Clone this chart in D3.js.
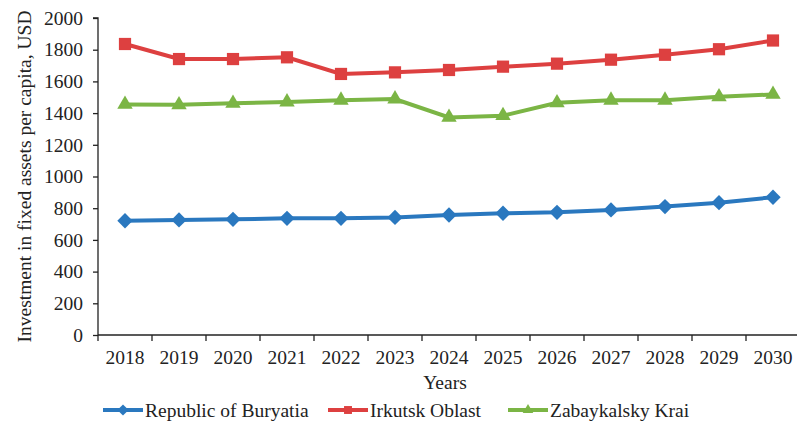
<!DOCTYPE html>
<html>
<head>
<meta charset="utf-8">
<script src="https://cdn.jsdelivr.net/npm/d3@7"></script>
<style>
  body { margin: 0; background: #fff; }
  svg { display: block; font-family: "Liberation Serif", "DejaVu Serif", serif; }
</style>
</head>
<body>
<svg id="chart" width="797" height="428"></svg>
<script>
// data
const years = ["2018","2019","2020","2021","2022","2023","2024","2025","2026","2027","2028","2029","2030"];
const buryatia = [721, 726, 730, 736, 736, 742, 757, 768, 774, 789, 810, 835, 869];
const irkutsk = [1836, 1741, 1741, 1752, 1647, 1657, 1672, 1693, 1712, 1737, 1768, 1803, 1858];
const zabaykalsky = [1455, 1452, 1462, 1470, 1481, 1489, 1373, 1384, 1465, 1481, 1481, 1503, 1518];
const yTicks = [0, 200, 400, 600, 800, 1000, 1200, 1400, 1600, 1800, 2000];

const series = [
  { name: "Republic of Buryatia", values: buryatia, color: "#2a78bf", symbol: d3.symbolDiamond2 },
  { name: "Irkutsk Oblast", values: irkutsk, color: "#dd4040", symbol: d3.symbolSquare2 },
  { name: "Zabaykalsky Krai", values: zabaykalsky, color: "#7bb545", symbol: d3.symbolTriangle2 }
];

const svg = d3.select("#chart");
const fontSize = 19.5;
const ink = "#222";

const x = d3.scaleBand().domain(years).range([98, 800]);
const y = d3.scaleLinear().domain([0, 2000]).range([335, 18]);

// y axis
const yAxis = svg.append("g")
  .attr("transform", "translate(98,0)")
  .call(d3.axisLeft(y).tickValues(yTicks).tickFormat(d3.format("d")).tickSize(5).tickPadding(10));
yAxis.attr("font-family", null).attr("font-size", null);
yAxis.select(".domain").attr("d", `M-5,${y(2000)}H0V${y(0)}`);
yAxis.selectAll("text").attr("font-size", fontSize).attr("fill", ink);
yAxis.selectAll("line, path").attr("stroke", ink).attr("stroke-width", 1.3);

// x axis with ticks between categories
const xAxis = svg.append("g").attr("transform", `translate(0,${y(0)})`);
xAxis.append("line")
  .attr("x1", 98).attr("x2", 800)
  .attr("stroke", ink).attr("stroke-width", 1.3);
xAxis.selectAll(".tk")
  .data(years.concat(["end"]))
  .join("line")
  .attr("class", "tk")
  .attr("x1", (d, i) => 98 + i * x.step())
  .attr("x2", (d, i) => 98 + i * x.step())
  .attr("y1", 0).attr("y2", 6)
  .attr("stroke", ink).attr("stroke-width", 1.3);
xAxis.selectAll(".lb")
  .data(years)
  .join("text")
  .attr("class", "lb")
  .attr("x", d => x(d) + x.bandwidth() / 2)
  .attr("y", 29)
  .attr("text-anchor", "middle")
  .attr("font-size", fontSize)
  .attr("fill", ink)
  .text(d => d);

// axis titles
svg.append("text")
  .attr("transform", `translate(31,${(y(0) + y(2000)) / 2}) rotate(-90)`)
  .attr("text-anchor", "middle")
  .attr("font-size", fontSize)
  .attr("fill", ink)
  .text("Investment in fixed assets per capita, USD");

svg.append("text")
  .attr("x", 445)
  .attr("y", 389)
  .attr("text-anchor", "middle")
  .attr("font-size", fontSize)
  .attr("fill", ink)
  .text("Years");

// lines + markers
const line = d3.line()
  .x((d, i) => x(years[i]) + x.bandwidth() / 2)
  .y(d => y(d));

series.forEach(s => {
  const g = svg.append("g");
  g.append("path")
    .datum(s.values)
    .attr("fill", "none")
    .attr("stroke", s.color)
    .attr("stroke-width", 4)
    .attr("d", line);
  g.selectAll("path.m")
    .data(s.values)
    .join("path")
    .attr("class", "m")
    .attr("transform", (d, i) => `translate(${x(years[i]) + x.bandwidth() / 2},${y(d)})`)
    .attr("d", d3.symbol().type(s.symbol).size(s.symbol === d3.symbolTriangle2 ? 170 : s.symbol === d3.symbolSquare2 ? 190 : 150))
    .attr("fill", s.color);
});

// legend
const legendX = [103, 328, 508];
const leg = svg.append("g").selectAll("g")
  .data(series)
  .join("g")
  .attr("transform", (d, i) => `translate(${legendX[i]},410)`);
leg.append("line")
  .attr("x1", 0).attr("x2", 40)
  .attr("stroke", d => d.color).attr("stroke-width", 4);
leg.append("path")
  .attr("transform", "translate(20,0)")
  .attr("d", d => d3.symbol().type(d.symbol).size(80)())
  .attr("fill", d => d.color);
leg.append("text")
  .attr("x", 42)
  .attr("y", 6.5)
  .attr("font-size", fontSize)
  .attr("fill", ink)
  .text(d => d.name);
</script>
</body>
</html>
